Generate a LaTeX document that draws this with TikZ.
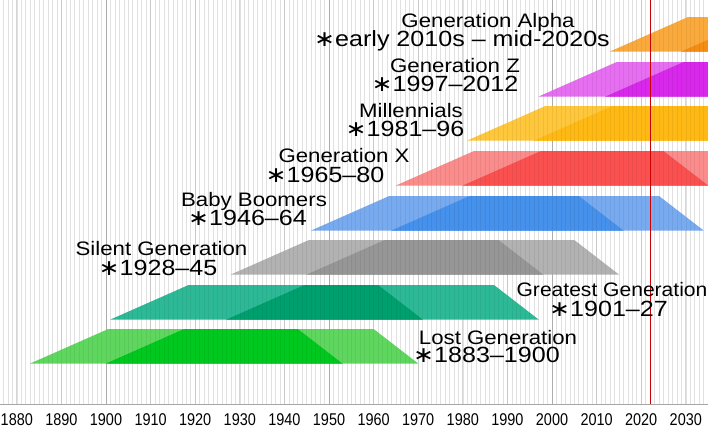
\documentclass[tikz,border=0pt]{standalone}
\usepackage{fontspec}
\setmainfont{Liberation Sans}
\newfontfamily\djv{DejaVu Sans}
\definecolor{lostL}{RGB}{95,215,95}
\definecolor{lostD}{RGB}{0,200,30}
\definecolor{greatL}{RGB}{45,185,150}
\definecolor{greatD}{RGB}{0,160,110}
\definecolor{silentL}{RGB}{178,178,178}
\definecolor{silentD}{RGB}{150,150,150}
\definecolor{boomL}{RGB}{120,170,240}
\definecolor{boomD}{RGB}{70,145,235}
\definecolor{genxL}{RGB}{250,140,140}
\definecolor{genxD}{RGB}{250,80,80}
\definecolor{millL}{RGB}{255,200,60}
\definecolor{millD}{RGB}{255,185,20}
\definecolor{genzL}{RGB}{230,110,240}
\definecolor{genzD}{RGB}{215,40,235}
\definecolor{alphaL}{RGB}{250,170,60}
\definecolor{alphaD}{RGB}{245,140,20}
\newcommand\yrx[1]{106+(#1-1900)*4.46}
\newcommand\genbar[5]{%
 \pgfmathsetmacro\gxa{\yrx{#1}}%
 \pgfmathsetmacro\gxb{\yrx{#1+17.5}}%
 \pgfmathsetmacro\gxc{\yrx{#1+60}}%
 \pgfmathsetmacro\gxd{\yrx{#1+70}}%
 \pgfmathsetmacro\gxe{\yrx{#2}}%
 \pgfmathsetmacro\gxf{\yrx{#2+17.5}}%
 \pgfmathsetmacro\gxg{\yrx{#2+60}}%
 \pgfmathsetmacro\gxh{\yrx{#2+70}}%
 \pgfmathsetmacro\gyb{#3+34.5}%
 \fill[#4] (\gxa,\gyb) -- (\gxb,#3) -- (\gxc,#3) -- (\gxd,\gyb) -- cycle;
 \fill[#4] (\gxe,\gyb) -- (\gxf,#3) -- (\gxg,#3) -- (\gxh,\gyb) -- cycle;
 \fill[#5] (\gxe,\gyb) -- (\gxf,#3) -- (\gxc,#3) -- (\gxd,\gyb) -- cycle;
}
\newcommand\gast{{\djv ∗}}
\tikzset{
 yearline/.style={draw=black!6, line width=0.6pt},
 decline/.style={draw=black!16, line width=0.8pt},
 halfline/.style={draw=black!28, line width=0.9pt},
 overgrid/.style={draw=black, opacity=0.06, line width=0.6pt},
 axisline/.style={draw=black!35, line width=0.8pt},
 nowline/.style={draw=red!80!black, line width=0.8pt},
 yearlab/.style={anchor=base, inner sep=0pt, font=\fontsize{17}{17}\selectfont},
 genlab/.style={anchor=base, inner sep=0pt, font=\fontsize{19.5}{19.5}\selectfont},
 datelab/.style={anchor=base, inner sep=0pt, font=\fontsize{22}{22}\selectfont},
}
\newcommand\gl[2][1.14]{\scalebox{#1}[1]{#2}}
\begin{document}
\begin{tikzpicture}[x=1pt,y=-1pt]
\useasboundingbox (0,0) rectangle (708,429);
\fill[white] (0,0) rectangle (708,429);
\begin{scope}
\clip (0,0) rectangle (708,429);
\foreach \yr in {1877,...,2035} \draw[yearline] ({\yrx{\yr}},0) -- ({\yrx{\yr}},404);
\foreach \yr in {1880,1890,...,2030} \draw[decline] ({\yrx{\yr}},0) -- ({\yrx{\yr}},404);
\foreach \yr in {1900,1950,2000} \draw[halfline] ({\yrx{\yr}},0) -- ({\yrx{\yr}},404);
\genbar{2013}{2029}{17}{alphaL}{alphaD}
\genbar{1997}{2012}{62}{genzL}{genzD}
\genbar{1981}{1996}{106}{millL}{millD}
\genbar{1965}{1980}{151}{genxL}{genxD}
\genbar{1946}{1964}{196}{boomL}{boomD}
\genbar{1928}{1945}{240}{silentL}{silentD}
\genbar{1901}{1927}{285}{greatL}{greatD}
\genbar{1883}{1900}{329}{lostL}{lostD}
\foreach \yr in {1877,...,2035} \draw[overgrid] ({\yrx{\yr}},0) -- ({\yrx{\yr}},404);
\end{scope}
\coordinate (axl) at (0,404);
\coordinate (axr) at (708,404);
\draw[axisline] (axl) -- (axr);
\coordinate (nowtop) at ({\yrx{2022}},0);
\coordinate (nowbot) at ({\yrx{2022}},404);
\draw[nowline] (nowtop) -- (nowbot);
\foreach \yr in {1880,1890,...,2030} \node[yearlab] (y\yr) at ({\yrx{\yr}},425) {\scalebox{0.85}[1]{\yr}};
\node[genlab] (alpha1) at (488,27.3) {\gl{Generation Alpha}};
\node[datelab] (alpha2) at (462,46.7) {\gl{\gast early 2010s – mid-2020s}};
\node[genlab] (genz1) at (455,72.7) {\gl{Generation Z}};
\node[datelab] (genz2) at (445,91.7) {\gl{\gast 1997–2012}};
\node[genlab] (mill1) at (411,117) {\gl{Millennials}};
\node[datelab] (mill2) at (405,136.5) {\gl{\gast 1981–96}};
\node[genlab] (genx1) at (344,162) {\gl{Generation X}};
\node[datelab] (genx2) at (325,182) {\gl{\gast 1965–80}};
\node[genlab] (boom1) at (254,206.7) {\gl{Baby Boomers}};
\node[datelab] (boom2) at (247.5,225.7) {\gl{\gast 1946–64}};
\node[genlab] (silent1) at (161.5,255) {\gl{Silent Generation}};
\node[datelab] (silent2) at (158,275) {\gl{\gast 1928–45}};
\node[genlab] (great1) at (612,296.7) {\gl[1.08]{Greatest Generation}};
\node[datelab] (great2) at (608.5,316) {\gl{\gast 1901–27}};
\node[genlab] (lost1) at (498,344) {\gl{Lost Generation}};
\node[datelab] (lost2) at (486.5,362.7) {\gl{\gast 1883–1900}};
\end{tikzpicture}
\end{document}
